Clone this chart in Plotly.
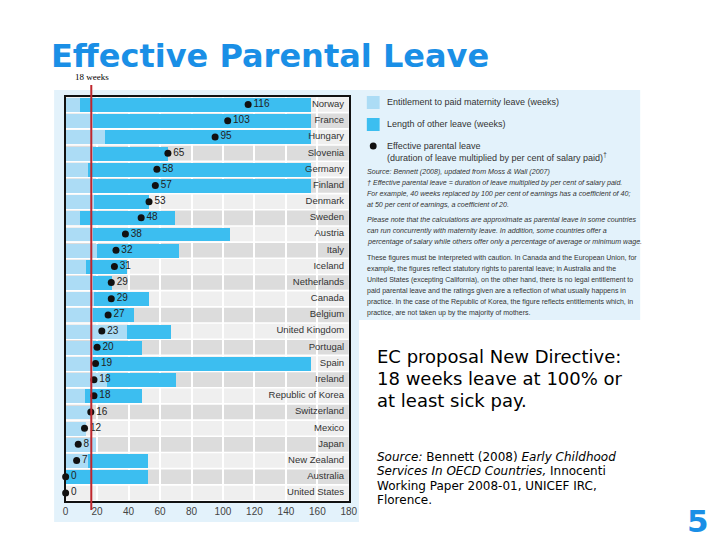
import plotly.graph_objects as go

# ---------------- data ----------------
countries = ["Norway", "France", "Hungary", "Slovenia", "Germany", "Finland",
             "Denmark", "Sweden", "Austria", "Italy", "Iceland", "Netherlands",
             "Canada", "Belgium", "United Kingdom", "Portugal", "Spain", "Ireland",
             "Republic of Korea", "Switzerland", "Mexico", "Japan", "New Zealand",
             "Australia", "United States"]
maternity_weeks = [9, 17, 25, 17, 14, 17, 18, 9, 17, 20, 13, 17, 18, 17, 39, 17,
                   17, 26, 12, 16, 13, 19, 14, 0, 0]
other_leave_weeks = [147, 139, 131, 48, 142, 139, 35, 60, 87, 52, 26, 12, 35, 26,
                     28, 31, 139, 44, 36, 0, 0, 0, 38, 52, 0]
effective_leave = [116, 103, 95, 65, 58, 57, 53, 48, 38, 32, 31, 29, 29, 27, 23,
                   20, 19, 18, 18, 16, 12, 8, 7, 0, 0]
x_ticks = [0, 20, 40, 60, 80, 100, 120, 140, 160, 180]
ec_line_position = 16.3   # red marker line as drawn ("18 weeks")
ec_line_label = "18 weeks"

# ---------------- styles ----------------
W, H = 720, 540
BLUE_TITLE = "#1a8fe6"
LIGHT_BAR = "#acdcf5"
DARK_BAR = "#3cbef0"
PANEL = "#e3f2fb"
STRIPE_A = "#efefef"
STRIPE_B = "#dcdcdc"
TXT = "#333333"
SANS = "Liberation Sans, Arial, sans-serif"
VERD = "DejaVu Sans, Verdana, sans-serif"


def px(x):
    return x / W


def py(y):
    return 1 - y / H


n = len(countries)
rows = list(range(n))

fig = go.Figure()

fig.add_trace(go.Bar(y=rows, x=maternity_weeks, orientation="h",
                     marker=dict(color=LIGHT_BAR, line=dict(width=0)),
                     width=0.86, showlegend=False, hoverinfo="skip"))
fig.add_trace(go.Bar(y=rows, x=other_leave_weeks, orientation="h",
                     marker=dict(color=DARK_BAR, line=dict(width=0)),
                     width=0.86, showlegend=False, hoverinfo="skip"))
fig.add_trace(go.Scatter(y=rows, x=effective_leave, mode="markers+text",
                         marker=dict(color="#111111", size=7),
                         text=[str(v) for v in effective_leave],
                         textposition="middle right",
                         textfont=dict(family=SANS, size=10, color="#222222"),
                         showlegend=False, hoverinfo="skip", cliponaxis=False))
fig.add_trace(go.Scatter(y=rows, x=[177] * n, mode="text", text=countries,
                         textposition="middle left",
                         textfont=dict(family=SANS, size=9.5, color="#333333"),
                         showlegend=False, hoverinfo="skip"))

shapes = []
# panels
shapes.append(dict(type="rect", xref="paper", yref="paper", x0=px(52), x1=px(362),
                   y0=py(522), y1=py(90), fillcolor=PANEL, line=dict(width=0), layer="below"))
shapes.append(dict(type="rect", xref="paper", yref="paper", x0=px(361), x1=px(648),
                   y0=py(320), y1=py(90), fillcolor=PANEL, line=dict(width=0), layer="below"))
# plot area white base
shapes.append(dict(type="rect", xref="x", yref="y", x0=0, x1=180, y0=-0.5, y1=n - 0.5,
                   fillcolor="white", line=dict(width=0), layer="below"))
# row stripes
for i in rows:
    shapes.append(dict(type="rect", xref="x", yref="y", x0=0, x1=180,
                       y0=i - 0.45, y1=i + 0.45,
                       fillcolor=STRIPE_A if i % 2 == 0 else STRIPE_B,
                       line=dict(width=0), layer="below"))
# red EC line
shapes.append(dict(type="line", xref="x", yref="paper", x0=ec_line_position,
                   x1=ec_line_position, y0=py(510), y1=py(85),
                   line=dict(color="#c0272d", width=2), layer="above"))
# legend glyphs
shapes.append(dict(type="rect", xref="paper", yref="paper", x0=px(370), x1=px(383),
                   y0=py(109), y1=py(96), fillcolor=LIGHT_BAR, line=dict(width=0)))
shapes.append(dict(type="rect", xref="paper", yref="paper", x0=px(370), x1=px(383),
                   y0=py(131), y1=py(118), fillcolor=DARK_BAR, line=dict(width=0)))
shapes.append(dict(type="circle", xref="paper", yref="paper", x0=px(373), x1=px(380),
                   y0=py(149.5), y1=py(142.5), fillcolor="#111111", line=dict(width=0)))

ann = []


def text(x, y, s, size, color=TXT, family=SANS, anchor="left"):
    ann.append(dict(x=px(x), y=py(y), xref="paper", yref="paper", text=s,
                    showarrow=False, xanchor=anchor, yanchor="middle",
                    borderpad=0,
                    font=dict(size=size, color=color, family=family)))


text(48, 56, "<b>Effective Parental Leave</b>", 32, BLUE_TITLE, VERD)
text(72, 77, ec_line_label, 9, "#000000", "Liberation Serif, serif")

text(389, 102, "Entitlement to paid maternity leave (weeks)", 9)
text(389, 124, "Length of other leave (weeks)", 9)
text(389, 146, "Effective parental leave", 9)
text(389, 157, "(duration of leave multiplied by per cent of salary paid)<sup>†</sup>", 9)

small_i = 7.1
small = 7.0
text(369, 172, "<i>Source: Bennett (2008), updated from Moss &amp; Wall (2007)</i>", small_i)
text(369, 183, "<i>† Effective parental leave = duration of leave multiplied by per cent of salary paid.</i>", small_i)
text(369, 194, "<i>For example, 40 weeks replaced by 100 per cent of earnings has a coefficient of 40;</i>", small_i)
text(369, 205, "<i>at 50 per cent of earnings, a coefficient of 20.</i>", small_i)
text(369, 220, "<i>Please note that the calculations are approximate as parental leave in some countries</i>", small_i)
text(369, 231, "<i>can run concurrently with maternity leave. In addition, some countries offer a</i>", small_i)
text(369, 242, "<i>percentage of salary while others offer only a percentage of average or minimum wage.</i>", small_i)
notes = ["These figures must be interpreted with caution. In Canada and the European Union, for",
         "example, the figures reflect statutory rights to parental leave; in Australia and the",
         "United States (excepting California), on the other hand, there is no legal entitlement to",
         "paid parental leave and the ratings given are a reflection of what usually happens in",
         "practice. In the case of the Republic of Korea, the figure reflects entitlements which, in",
         "practice, are not taken up by the majority of mothers."]
for k, s in enumerate(notes):
    text(369, 258 + k * 11, s, small)

text(379, 356, "EC proposal New Directive:", 18, "#000000", VERD)
text(379, 378, "18 weeks leave at 100% or", 18, "#000000", VERD)
text(379, 400, "at least sick pay.", 18, "#000000", VERD)

text(379, 457, "<i>Source:</i> Bennett (2008) <i>Early Childhood</i>", 12, "#000000", VERD)
text(379, 471, "<i>Services In OECD Countries,</i> Innocenti", 12, "#000000", VERD)
text(379, 486, "Working Paper 2008-01, UNICEF IRC,", 12, "#000000", VERD)
text(379, 500, "Florence.", 12, "#000000", VERD)

text(719, 521, "<b>5</b>", 31, BLUE_TITLE, VERD, anchor="right")

fig.update_layout(
    width=W, height=H, autosize=False,
    margin=dict(l=0, r=0, t=0, b=0),
    paper_bgcolor="white", plot_bgcolor="white",
    barmode="stack", bargap=0,
    shapes=shapes, annotations=ann, showlegend=False,
    xaxis=dict(domain=[px(63.7), px(351.7)], range=[0, 180], tickvals=x_ticks,
               showgrid=True, gridcolor="white", gridwidth=2, zeroline=False,
               showline=True, mirror=True, linecolor="#111111", linewidth=1.5,
               ticks="", tickfont=dict(family=SANS, size=10, color="#444444"),
               fixedrange=True),
    yaxis=dict(domain=[py(501), py(96.5)], range=[n - 0.5, -0.5],
               showticklabels=False, showgrid=False, zeroline=False,
               showline=True, mirror=True, linecolor="#111111", linewidth=1.5,
               ticks="", fixedrange=True),
)

fig.write_html("out.html", config={"displayModeBar": False},
               post_script="document.body.style.margin='0';document.body.style.overflow='hidden';")
